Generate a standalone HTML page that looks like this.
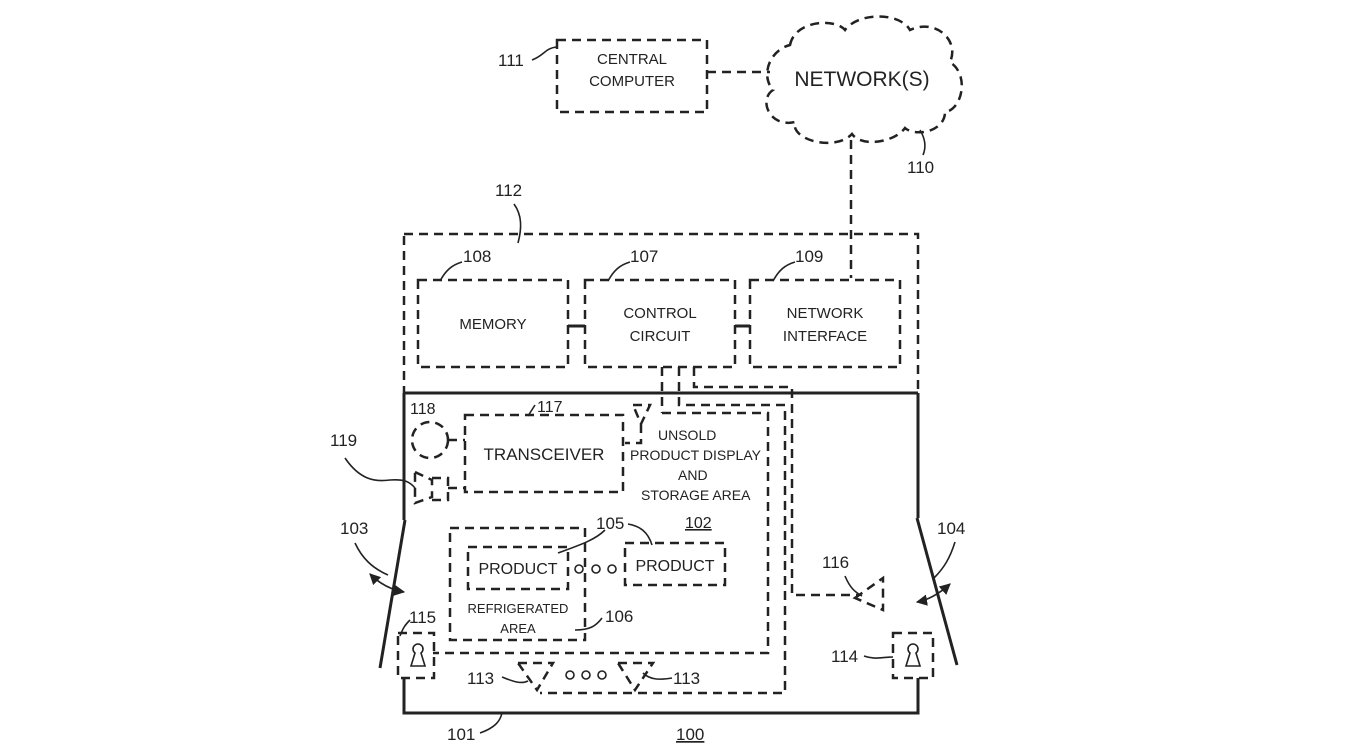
<!DOCTYPE html>
<html><head><style>
html,body{margin:0;padding:0;background:#fff;}
svg{display:block;}
text{font-family:"Liberation Sans",sans-serif;fill:#222;}
.d{fill:none;stroke:#222;stroke-width:2.5;stroke-dasharray:9,6;}
.s{fill:none;stroke:#222;stroke-width:3;}
.t{fill:none;stroke:#222;stroke-width:1.6;}
</style></head><body>
<svg width="1372" height="754" viewBox="0 0 1372 754" xmlns="http://www.w3.org/2000/svg">
<defs>
<marker id="ah" viewBox="0 0 10 10" refX="9" refY="5" markerWidth="7" markerHeight="7" orient="auto-start-reverse">
<path d="M0,0 L10,5 L0,10 Z" fill="#222"/>
</marker>
</defs>
<!-- central computer -->
<rect class="d" x="557" y="40" width="150" height="72"/>
<text x="632" y="64" font-size="15" text-anchor="middle">CENTRAL</text>
<text x="632" y="86" font-size="15" text-anchor="middle">COMPUTER</text>
<text x="498" y="66" font-size="17">111</text>
<path class="t" d="M532,60 C545,55 545,48 557,47"/>
<line class="d" x1="707" y1="72" x2="770" y2="72"/>
<!-- cloud -->
<path class="d" stroke-dasharray="5,3" d="M790,45 C795,20 835,18 845,30 C858,12 900,12 910,30 C935,18 960,40 950,62 C970,75 962,110 945,112 C945,132 915,137 905,128 C895,142 862,148 852,134 C835,152 790,140 795,122 C770,128 758,100 773,90 C760,75 770,50 790,45 Z"/>
<text x="862" y="86" font-size="21" text-anchor="middle">NETWORK(S)</text>
<path class="t" d="M920,130 C926,140 926,148 923,155"/>
<text x="907" y="173" font-size="17">110</text>
<line class="d" x1="851" y1="140" x2="851" y2="278"/>
<!-- 112 box -->
<rect class="d" x="404" y="234" width="514" height="159"/>
<text x="495" y="196" font-size="17">112</text>
<path class="t" d="M514,204 C522,215 522,228 518,243"/>
<rect class="d" x="418" y="280" width="150" height="87"/>
<text x="493" y="329" font-size="15" text-anchor="middle">MEMORY</text>
<rect class="d" x="585" y="280" width="150" height="87"/>
<text x="660" y="318" font-size="15" text-anchor="middle">CONTROL</text>
<text x="660" y="341" font-size="15" text-anchor="middle">CIRCUIT</text>
<rect class="d" x="750" y="280" width="150" height="87"/>
<text x="825" y="318" font-size="15" text-anchor="middle">NETWORK</text>
<text x="825" y="341" font-size="15" text-anchor="middle">INTERFACE</text>
<line class="s" stroke-width="2" x1="568" y1="326" x2="585" y2="326"/>
<line class="s" stroke-width="2" x1="735" y1="326" x2="750" y2="326"/>
<text x="463" y="262" font-size="17">108</text>
<path class="t" d="M440,281 C446,270 452,265 462,262"/>
<text x="630" y="262" font-size="17">107</text>
<path class="t" d="M608,281 C614,270 620,265 630,262"/>
<text x="795" y="262" font-size="17">109</text>
<path class="t" d="M773,281 C779,270 785,265 795,262"/>
<!-- cabinet -->
<path class="s" d="M404,393 L918,393"/>
<path class="s" d="M404,393 L404,520"/>
<path class="s" d="M918,393 L918,518"/>
<path class="s" d="M405,520 L380,668"/>
<path class="s" d="M917,518 L957,665"/>
<path class="s" d="M404,678 L404,713 L918,713 L918,678"/>
<!-- connections from control circuit -->
<path class="d" d="M662,367 L662,413"/>
<path class="d" d="M679,367 L679,405 L785,405 L785,693 L540,693"/>
<path class="d" d="M694,367 L694,387 L792,387 L792,595 L858,595"/>
<!-- box 102 -->
<path class="d" d="M662,413 L768,413 L768,653 L433,653"/>
<text x="658" y="440" font-size="14">UNSOLD</text>
<text x="630" y="460" font-size="14">PRODUCT DISPLAY</text>
<text x="678" y="480" font-size="14">AND</text>
<text x="641" y="500" font-size="14">STORAGE AREA</text>
<text x="685" y="528" font-size="16" text-decoration="underline">102</text>
<!-- transceiver -->
<rect class="d" x="465" y="415" width="158" height="77"/>
<text x="544" y="460" font-size="17" text-anchor="middle">TRANSCEIVER</text>
<text x="537" y="412" font-size="16">117</text>
<path class="t" d="M528,416 L535,405"/>
<path class="d" stroke-dasharray="5,3" d="M633,405 L650,405 L641,424 Z M641,424 L641,443 L625,443"/>
<!-- 118 -->
<text x="410" y="414" font-size="16">118</text>
<circle class="d" stroke-dasharray="6,4" cx="430" cy="440" r="18"/>
<path class="d" stroke-dasharray="5,3" d="M448,440 L465,440"/>
<!-- 119 speaker -->
<path class="d" stroke-dasharray="5,3" d="M415,472 L432,480 L432,497 L415,503 Z M432,478 L448,478 L448,500 L432,500 M448,488 L465,488"/>
<text x="330" y="446" font-size="17">119</text>
<path class="t" d="M345,458 C360,480 375,482 390,480 C405,479 410,482 415,488"/>
<!-- refrigerated area -->
<rect class="d" x="450" y="528" width="135" height="112"/>
<text x="518" y="613" font-size="13" text-anchor="middle">REFRIGERATED</text>
<text x="518" y="633" font-size="13" text-anchor="middle">AREA</text>
<rect class="d" x="468" y="547" width="100" height="42"/>
<text x="518" y="574" font-size="16" text-anchor="middle">PRODUCT</text>
<rect class="d" x="625" y="543" width="100" height="42"/>
<text x="675" y="571" font-size="16" text-anchor="middle">PRODUCT</text>
<circle class="t" stroke-width="2" cx="579" cy="569" r="4"/>
<circle class="t" stroke-width="2" cx="596" cy="569" r="4"/>
<circle class="t" stroke-width="2" cx="612" cy="569" r="4"/>
<text x="596" y="529" font-size="17">105</text>
<path class="t" d="M558,553 C580,545 595,540 605,530"/>
<path class="t" d="M628,524 C640,526 648,532 652,545"/>
<text x="605" y="622" font-size="17">106</text>
<path class="t" d="M575,630 C590,630 596,626 602,618"/>
<!-- 113 -->
<path class="d" stroke-dasharray="5,3" d="M518,663 L553,663 L537,690 Z"/>
<path class="d" stroke-dasharray="5,3" d="M618,663 L653,663 L635,690 Z"/>
<circle class="t" stroke-width="2" cx="570" cy="675" r="4"/>
<circle class="t" stroke-width="2" cx="586" cy="675" r="4"/>
<circle class="t" stroke-width="2" cx="602" cy="675" r="4"/>
<text x="467" y="684" font-size="17">113</text>
<path class="t" d="M502,677 C510,680 520,685 528,681"/>
<text x="673" y="684" font-size="17">113</text>
<path class="t" d="M672,678 C660,680 650,680 643,673"/>
<!-- 116 -->
<path class="d" stroke-dasharray="5,3" d="M855,598 L883,578 L883,610 Z"/>
<text x="822" y="568" font-size="17">116</text>
<path class="t" d="M845,576 C850,588 855,592 862,596"/>
<!-- locks -->
<rect class="d" stroke-dasharray="6,4" x="398" y="633" width="36" height="45"/>
<path class="t" stroke-width="2" d="M411,666 L415,653 A5,5 0 1 1 421,653 L425,666 Z"/>
<text x="409" y="623" font-size="17">115</text>
<path class="t" d="M400,636 C403,628 405,625 410,620"/>
<rect class="d" stroke-dasharray="6,4" x="893" y="633" width="40" height="45"/>
<path class="t" stroke-width="2" d="M906,666 L910,653 A5,5 0 1 1 916,653 L920,666 Z"/>
<text x="831" y="662" font-size="17">114</text>
<path class="t" d="M864,656 C875,660 882,657 893,657"/>
<!-- doors labels and swing arrows -->
<text x="340" y="534" font-size="17">103</text>
<path class="t" d="M355,543 C362,558 372,568 388,575"/>
<path class="t" stroke-width="1.8" marker-start="url(#ah)" marker-end="url(#ah)" d="M370,574 C380,584 392,590 404,592"/>
<text x="937" y="534" font-size="17">104</text>
<path class="t" d="M955,542 C950,558 944,568 934,578"/>
<path class="t" stroke-width="1.8" marker-start="url(#ah)" marker-end="url(#ah)" d="M917,602 C928,600 940,593 950,584"/>
<text x="447" y="740" font-size="17">101</text>
<path class="t" d="M480,733 C494,728 500,722 502,713"/>
<text x="676" y="740" font-size="17" text-decoration="underline">100</text>
</svg>
</body></html>
